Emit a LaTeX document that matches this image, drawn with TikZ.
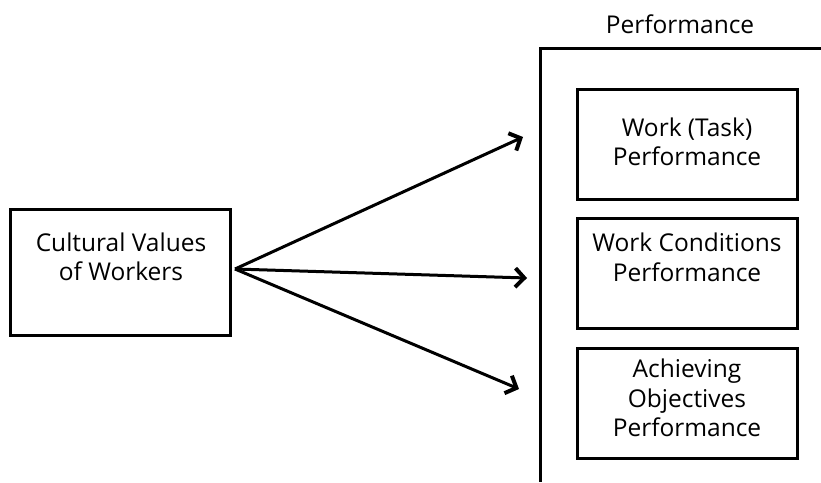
\documentclass[tikz,border=0pt]{standalone}
\usepackage{fontspec}
\setmainfont{Open Sans}
\usetikzlibrary{arrows.meta,positioning,calc}
\begin{document}
\begin{tikzpicture}[x=1pt,y=-1pt,
  box/.style={draw=black,line width=3pt,minimum width=220pt,minimum height=110pt,inner sep=0pt},
  lbl/.style={align=center,font=\fontsize{24.5}{29.5}\selectfont,inner sep=0pt},
  conn/.style={line width=3pt,-{Straight Barb[length=9pt,width=19pt,line width=4pt]}}]
\useasboundingbox (0,0) rectangle (821,482);
% outer performance frame
\coordinate (ftr) at (821,48);
\coordinate (ftl) at (540,48);
\coordinate (fbl) at (540,482);
\draw[line width=3pt] (ftr) -- (ftl) -- (fbl);
\node[lbl] (ptitle) at (680,24) {Performance};
% left box
\node[box,minimum height=126pt] (cv) at (120,272) {};
\node[lbl] (cvt) at (121,257) {Cultural Values\\of Workers};
% right boxes
\node[box] (b1) at (687,144) {};
\node[lbl] (b1t) at (687,142) {Work (Task)\\Performance};
\node[box] (b2) at (687,273) {};
\node[lbl] (b2t) at (687,257.5) {Work Conditions\\Performance};
\node[box] (b3) at (687,403) {};
\node[lbl] (b3t) at (687,398) {Achieving\\Objectives\\Performance};
% arrows
\coordinate (src) at (235,269);
\coordinate (t1) at (523,137);
\coordinate (t2) at (527,278);
\coordinate (t3) at (519,389);
\draw[conn] (src) -- (t1);
\draw[conn] (src) -- (t2);
\draw[conn] (src) -- (t3);
\end{tikzpicture}
\end{document}
